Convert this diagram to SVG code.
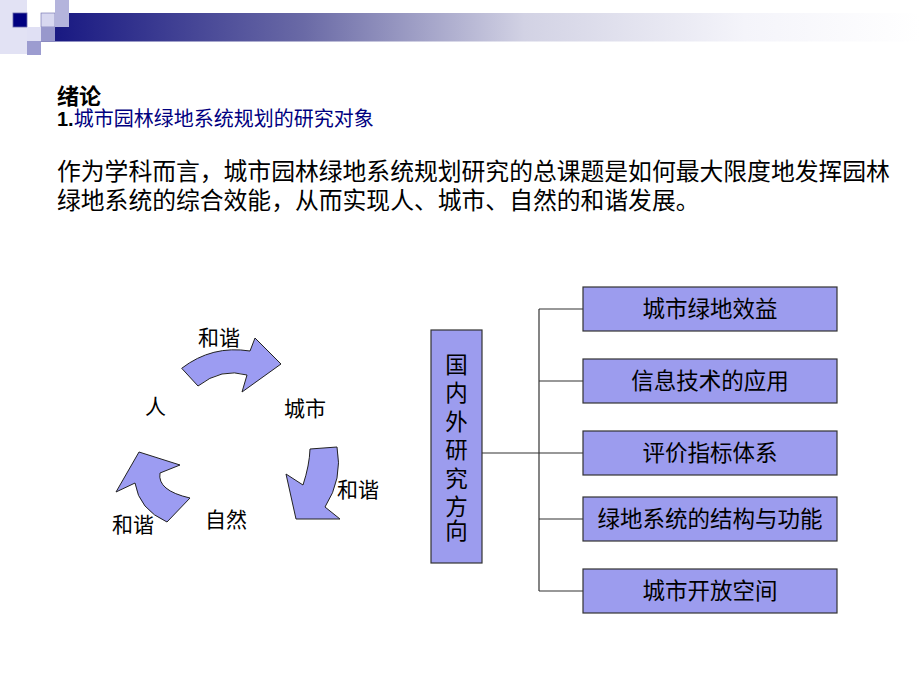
<svg xmlns="http://www.w3.org/2000/svg" width="920" height="690" viewBox="0 0 920 690">
<defs>
<linearGradient id="bar" x1="0" y1="0" x2="1" y2="0">
<stop offset="0" stop-color="#141480"/>
<stop offset="0.3" stop-color="#6a6aa6"/>
<stop offset="0.55" stop-color="#d2d2e4"/>
<stop offset="0.8" stop-color="#f4f4fa"/>
<stop offset="1" stop-color="#ffffff"/>
</linearGradient>
<style>
text{font-family:"Liberation Sans","Noto Sans CJK SC",sans-serif;fill:#000}
.box{fill:#9c9cee;stroke:#333;stroke-width:1.2}
.arrow{fill:#9c9cf2;stroke:#222;stroke-width:1}
.lbl{font-size:21px}
.bt{font-size:22.5px;text-anchor:middle}
.conn line{stroke:#333;stroke-width:1.2}
</style>
</defs>
<rect width="920" height="690" fill="#fff"/>
<g id="header">
<rect x="41" y="13" width="879" height="28.5" fill="url(#bar)"/>
<rect x="0" y="0" width="27" height="54" fill="#e2e2f4"/>
<rect x="13" y="13" width="14" height="14" fill="#000080" stroke="#6666aa" stroke-width="0.8"/>
<rect x="41" y="13" width="14" height="14" fill="#d8d8f0" stroke="#6a6aaa" stroke-width="0.6"/>
<rect x="55" y="0" width="14" height="27" fill="#b4b4dc"/>
<rect x="27" y="27" width="14" height="14" fill="#e0e0f4"/>
<rect x="41" y="27" width="14" height="14" fill="#9898cc"/>
<rect x="27" y="41" width="14" height="14" fill="#9c9cd0"/>
</g>
<g id="title">
<text x="57" y="104" style="font-size:22px;font-weight:bold">绪论</text>
<text x="57" y="126" style="font-size:20px;font-weight:bold">1.<tspan style="fill:#000080;font-weight:normal">城市园林绿地系统规划的研究对象</tspan></text>
<text x="57" y="180" style="font-size:23.8px">作为学科而言，城市园林绿地系统规划研究的总课题是如何最大限度地发挥园林</text>
<text x="57" y="209" style="font-size:23.8px">绿地系统的综合效能，从而实现人、城市、自然的和谐发展。</text>
</g>
<g id="cycle">
<path class="arrow" d="M181.7,368.3 Q212,345 250,351 L255,338 L281,364 L242,392 L247,375 Q221.5,367.5 198,386 Z"/>
<path class="arrow" d="M310,449 L337,447 Q343,479 325,507 L340,519 L296,519 L286,474 L303,485 Q309.5,465 310,449 Z"/>
<path class="arrow" d="M139,452 L180,465 L160,473 Q157,490.5 190,498 L167,522 Q139,509.5 135,483 L116,492 Z"/>
<text class="lbl" x="198" y="345">和谐</text>
<text class="lbl" x="145" y="414">人</text>
<text class="lbl" x="284" y="416">城市</text>
<text class="lbl" x="337" y="497">和谐</text>
<text class="lbl" x="205" y="527">自然</text>
<text class="lbl" x="112" y="532">和谐</text>
</g>
<g id="connectors" class="conn">
<line x1="482" y1="453" x2="583" y2="453"/>
<line x1="539" y1="309" x2="539" y2="591"/>
<line x1="539" y1="309" x2="583" y2="309"/>
<line x1="539" y1="381" x2="583" y2="381"/>
<line x1="539" y1="519" x2="583" y2="519"/>
<line x1="539" y1="591" x2="583" y2="591"/>
</g>
<g id="node-main">
<rect class="box" x="431" y="330" width="51" height="233"/>
<text class="bt" x="456.5" y="373">国</text>
<text class="bt" x="456.5" y="401">内</text>
<text class="bt" x="456.5" y="430">外</text>
<text class="bt" x="456.5" y="458">研</text>
<text class="bt" x="456.5" y="487">究</text>
<text class="bt" x="456.5" y="515">方</text>
<text class="bt" x="456.5" y="539">向</text>
</g>
<g id="node-1"><rect class="box" x="583" y="287" width="254" height="44"/><text class="bt" x="710" y="317">城市绿地效益</text></g>
<g id="node-2"><rect class="box" x="583" y="359" width="254" height="44"/><text class="bt" x="710" y="389">信息技术的应用</text></g>
<g id="node-3"><rect class="box" x="583" y="431" width="254" height="44"/><text class="bt" x="710" y="461">评价指标体系</text></g>
<g id="node-4"><rect class="box" x="583" y="497" width="254" height="44"/><text class="bt" x="710" y="527">绿地系统的结构与功能</text></g>
<g id="node-5"><rect class="box" x="583" y="569" width="254" height="44"/><text class="bt" x="710" y="599">城市开放空间</text></g>
</svg>
